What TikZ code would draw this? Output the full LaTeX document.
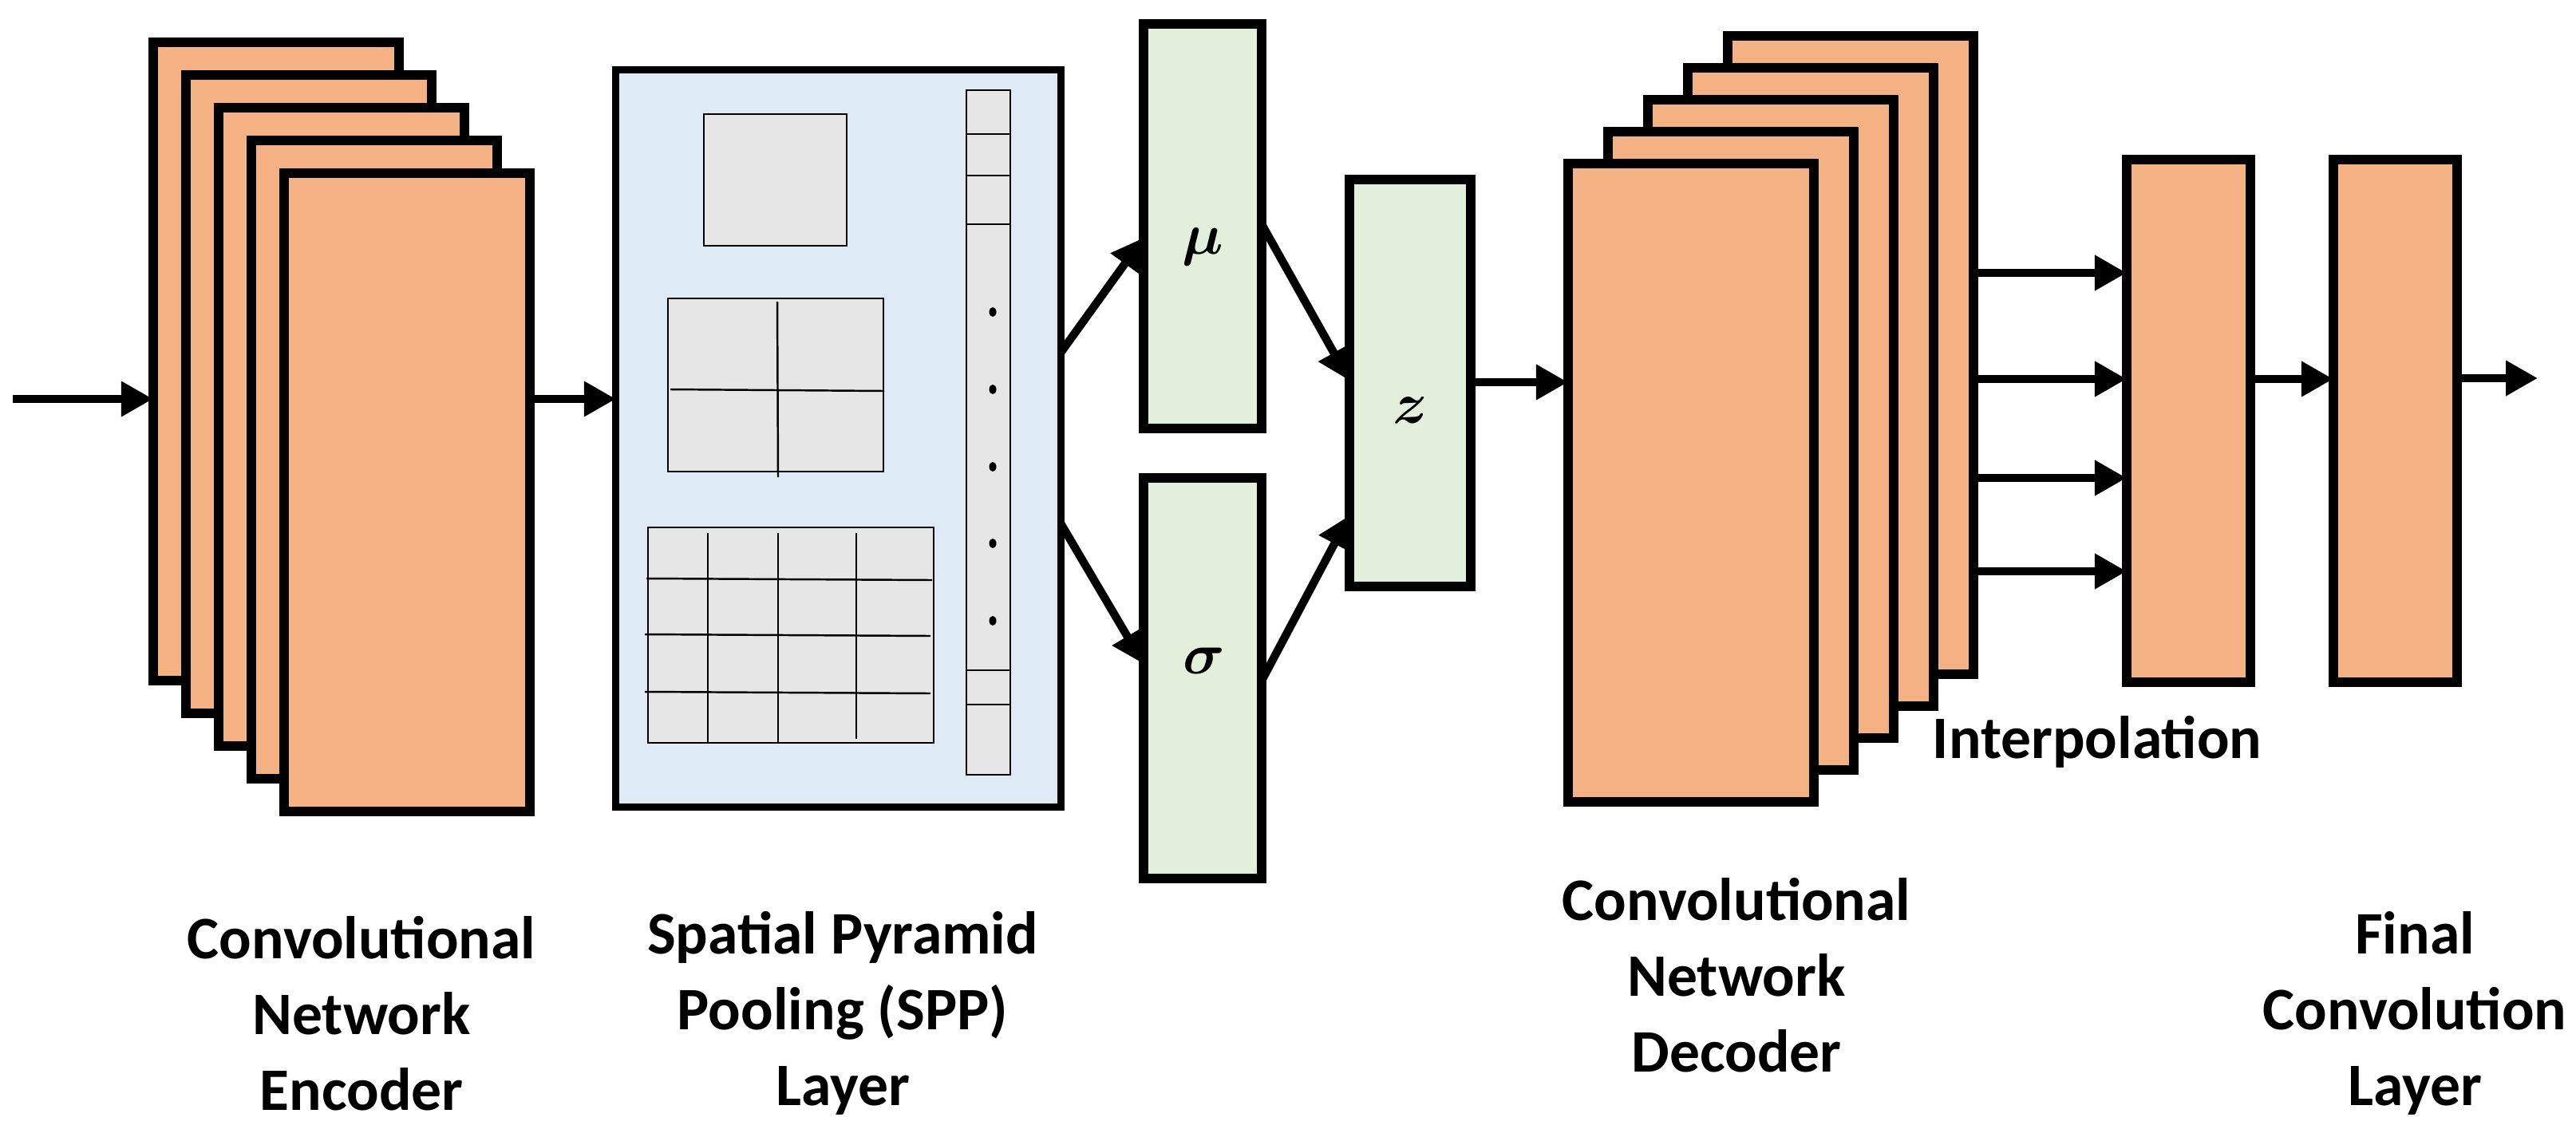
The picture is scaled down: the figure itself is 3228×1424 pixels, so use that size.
\documentclass[tikz,border=0pt]{standalone}
\usepackage{fontspec}
\setmainfont{Carlito}
\usetikzlibrary{arrows.meta}
\definecolor{org}{HTML}{F4B183}
\definecolor{grn}{HTML}{E2EFDA}
\definecolor{blu}{HTML}{DEEAF6}
\definecolor{gry}{HTML}{E6E6E6}
\begin{document}
\begin{tikzpicture}[x=0.01cm,y=-0.01cm,
  box/.style={draw=black,line width=3.4pt,inner sep=0pt,outer sep=0pt},
  fm/.style={box,fill=org,minimum width=3.08cm,minimum height=8cm},
  gb/.style={box,fill=grn,minimum width=1.48cm},
  ob/.style={box,fill=org,minimum width=1.55cm,minimum height=6.55cm},
  thin/.style={draw=black,line width=0.7pt,fill=gry},
  arr/.style={line width=2.9pt,-{Triangle[length=0.4cm,width=0.42cm]}},
  lab/.style={font=\fontsize{21.5}{27}\selectfont\bfseries,align=center},
  sym/.style={font=\fontsize{20}{24}\selectfont\boldmath}]
\useasboundingbox (0,0) rectangle (3228,1424);
% encoder stack
\foreach \i in {0,...,4}{
  \node[fm] (enc\i) at ({192+41*\i+154},{53+41*\i+400}) {};
}
% SPP
\node[box,fill=blu,line width=2.6pt,minimum width=5.57cm,minimum height=9.23cm] (spp) at (1050.5,549.5) {};
\draw[thin] (882,143) rectangle (1061,308);
\draw[thin] (837,374) rectangle (1107,591);
\draw[line width=0.7pt] (974,378) -- (975,598) (840,488) -- (1108,490);
\draw[thin] (812,661) rectangle (1170,931);
\draw[line width=0.7pt] (887,668) -- (887,931) (975,668) -- (975,931) (1073,668) -- (1073,926);
\draw[line width=0.7pt] (810,725) -- (1168,727) (808,795) -- (1166,797) (808,867) -- (1166,869);
\draw[thin] (1211,113) rectangle (1266,971);
\draw[line width=0.7pt] (1211,168) -- (1266,168) (1211,220) -- (1266,220) (1211,281) -- (1266,281) (1211,840) -- (1266,840) (1211,883) -- (1266,883);
\foreach \yy in {391,488,585,681,778}{\fill (1244,\yy) ellipse (4.5 and 6);}
% latent
\node[gb,minimum height=5.07cm] (mu) at (1507,283.5) {};
\node[sym] at (1507,309) {$\mu$};
\node[gb,minimum height=5.02cm] (sigma) at (1507,850) {};
\node[sym] at (1509,828) {$\sigma$};
\node[gb,minimum width=1.52cm,minimum height=5.1cm] (z) at (1767,480) {};
\node[sym] at (1767,514) {$z$};
% decoder stack
\foreach \i in {4,3,2,1,0}{
  \node[fm] (dec\i) at ({1965+50*\i+154},{205-40*\i+400}) {};
}
\node[ob] (b1) at (2742.5,527.5) {};
\node[ob] (b2) at (3001.5,527.5) {};
% arrows
\coordinate (in) at (16,500);
\coordinate (out) at (3180,474);
\draw[arr] (in) -- (enc0.west |- in);
\draw[arr] (enc4.east |- in) -- (spp.west |- in);
\draw[arr] (spp.east |- 0,442) -- (mu.west |- 0,298);
\draw[arr] (spp.east |- 0,656) -- (sigma.west |- 0,832);
\draw[arr] (mu.east |- 0,281) -- (z.west |- 0,477);
\draw[arr] (sigma.east |- 0,853) -- (z.west |- 0,646);
\draw[arr] (z.east |- 0,479) -- (dec0.west |- 0,479);
\foreach \yy in {342,475,599,716}{
  \draw[arr] (dec4.east |- 0,\yy) -- (b1.west |- 0,\yy);
}
\draw[arr] (b1.east |- 0,475) -- (b2.west |- 0,475);
\draw[arr] (b2.east |- out) -- (out);
% labels
\node[lab] (l1) at (453,1270) {Convolutional\\Network\\Encoder};
\node[lab] (l2) at (1056,1270) {Spatial Pyramid\\Pooling (SPP)\\Layer};
\node[lab] (l3) at (2176,1222) {Convolutional\\Network\\Decoder};
\node[lab] (l4) at (3026,1270) {Final\\Convolution\\Layer};
\node[lab] (l5) at (2628,930) {Interpolation};
\end{tikzpicture}
\end{document}
